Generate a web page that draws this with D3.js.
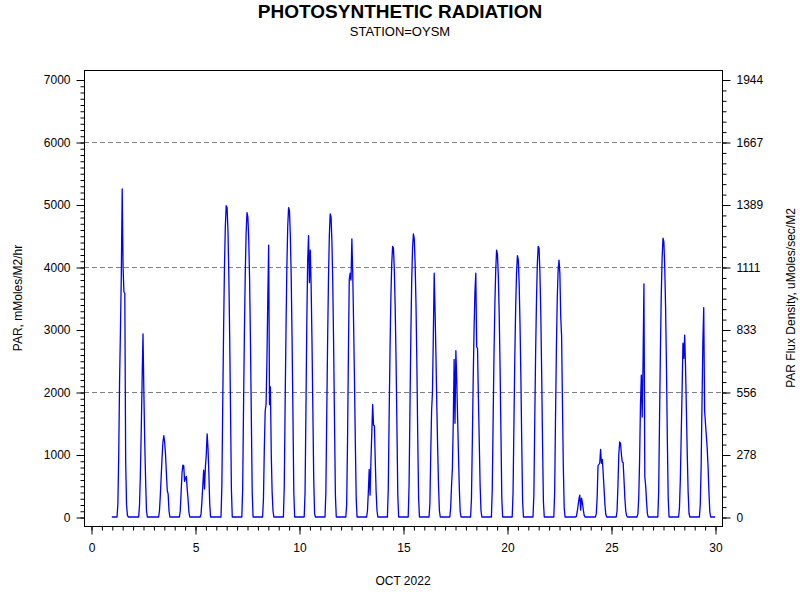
<!DOCTYPE html>
<html>
<head>
<meta charset="utf-8">
<script src="https://cdn.jsdelivr.net/npm/d3@7"></script>
<style>
    body { margin: 0; background: #fff; }
    text { font-family: "Liberation Sans", Arial, sans-serif; fill: #000; }
</style>
</head>
<body>
<script>
// hourly PAR readings (mMoles/M2/hr), one row per day of Oct 2022,
// hours 06:00 .. 19:00; all other hours read 0 on the chart
const firstDay = 1;
const firstHour = 6;
const daylight = [
    [0, 200, 1000, 2200, 3000, 3900, 5250, 4000, 3600, 3580, 900, 200, 30, 0],     // 1
    [0, 0, 200, 700, 1400, 2200, 2930, 2000, 1200, 600, 100, 0, 0, 0],              // 2
    [0, 100, 350, 650, 950, 1200, 1300, 1200, 1000, 700, 420, 370, 100, 0],         // 3
    [0, 100, 400, 700, 830, 820, 570, 620, 650, 450, 280, 80, 0, 0],                // 4
    [0, 50, 250, 500, 750, 450, 800, 1000, 1330, 1100, 700, 200, 0, 0],             // 5
    [0, 500, 1800, 3000, 4000, 4650, 4980, 4950, 4600, 3900, 2900, 1700, 450, 0],   // 6
    [0, 450, 1750, 2950, 3900, 4550, 4870, 4800, 4450, 3800, 2800, 1600, 400, 0],   // 7
    [0, 300, 1100, 1700, 1800, 2500, 3500, 4350, 1800, 2080, 1000, 400, 100, 0],    // 8
    [0, 500, 1800, 3000, 4000, 4650, 4950, 4900, 4500, 3850, 2850, 1650, 400, 0],   // 9
    [0, 400, 1700, 3100, 4100, 4500, 3750, 4270, 3700, 2800, 1700, 600, 50, 0],     // 10
    [0, 400, 1600, 2800, 3800, 4500, 4850, 4800, 4400, 3700, 2700, 1500, 350, 0],   // 11
    [0, 200, 1200, 2600, 3800, 3900, 3790, 4450, 3900, 3100, 2200, 1200, 300, 0],   // 12
    [0, 100, 400, 760, 350, 900, 1350, 1800, 1470, 1460, 900, 400, 100, 0],         // 13
    [0, 450, 1600, 2650, 3500, 4050, 4330, 4300, 3950, 3350, 2500, 1450, 350, 0],   // 14
    [0, 500, 1700, 2850, 3750, 4300, 4530, 4450, 4050, 3400, 2450, 1300, 300, 0],   // 15
    [0, 200, 1000, 1700, 2000, 2900, 3900, 3300, 2600, 1800, 1100, 500, 100, 0],    // 16
    [0, 150, 500, 780, 1500, 2520, 1500, 2660, 2200, 1600, 1000, 450, 80, 0],       // 17
    [0, 300, 1200, 2200, 3000, 3600, 3900, 2720, 2700, 1900, 1200, 500, 100, 0],    // 18
    [0, 450, 1550, 2600, 3400, 3950, 4270, 4200, 3850, 3250, 2400, 1350, 300, 0],   // 19
    [0, 400, 1500, 2550, 3350, 3900, 4180, 4120, 3750, 3100, 2250, 1200, 250, 0],   // 20
    [0, 350, 1500, 2600, 3450, 4050, 4330, 4300, 3900, 3250, 2300, 1200, 250, 0],   // 21
    [0, 400, 1600, 2700, 3500, 3950, 4110, 3900, 3200, 2900, 1800, 800, 150, 0],    // 22
    [0, 0, 10, 80, 180, 290, 350, 110, 300, 230, 120, 30, 0, 0],                    // 23
    [0, 50, 300, 820, 840, 860, 1080, 860, 920, 700, 450, 200, 40, 0],              // 24
    [0, 100, 500, 1000, 1200, 1180, 1000, 880, 870, 600, 300, 100, 20, 0],          // 25
    [0, 50, 300, 900, 1800, 2270, 1600, 2500, 3730, 650, 500, 250, 50, 0],          // 26
    [0, 400, 1550, 2650, 3550, 4150, 4460, 4400, 4000, 3350, 2400, 1250, 300, 0],   // 27
    [0, 150, 600, 1300, 2000, 2780, 2540, 2910, 2400, 1700, 1000, 400, 60, 0],      // 28
    [0, 200, 800, 1800, 2800, 3350, 1700, 1500, 1300, 1100, 800, 400, 80, 0]        // 29
];

const xTicks = [0, 5, 10, 15, 20, 25, 30];
const leftTicks = [0, 1000, 2000, 3000, 4000, 5000, 6000, 7000];
const gridValues = [2000, 4000, 6000];
const mMolesPerUMoles = 3.6;   // mMoles/M2/hr -> uMoles/sec/M2

const title = 'PHOTOSYNTHETIC RADIATION';
const subtitle = 'STATION=OYSM';
const xLabel = 'OCT 2022';
const yLabel = 'PAR, mMoles/M2/hr';
const y2Label = 'PAR Flux Density, uMoles/sec/M2';

// flatten to (day, value) points
const series = [];
daylight.forEach((row, i) => {
    const day = firstDay + i;
    for (let h = 0; h < 24; h++) {
        const k = h - firstHour;
        series.push({ t: day + h / 24, v: (k >= 0 && k < row.length) ? row[k] : 0 });
    }
});
series.push({ t: firstDay + daylight.length, v: 0 });

const width = 800, height = 600;
const frame = { left: 84, right: 722, top: 70, bottom: 526 };

const svg = d3.select('body').append('svg')
    .attr('width', width)
    .attr('height', height);

const x = d3.scaleLinear().domain([0, 30]).range([91, 715]);
const y = d3.scaleLinear().domain([-144, 7152]).range([frame.bottom, frame.top]);
const y2 = d3.scaleLinear()
    .domain(y.domain().map(v => v / mMolesPerUMoles))
    .range(y.range());

// grid
svg.append('g').selectAll('line')
    .data(gridValues)
    .join('line')
    .attr('x1', frame.left).attr('x2', frame.right)
    .attr('y1', d => y(d) + 0.5).attr('y2', d => y(d) + 0.5)
    .attr('stroke', '#808080')
    .attr('stroke-dasharray', '5,3');

// the line
svg.append('path')
    .datum(series)
    .attr('fill', 'none')
    .attr('stroke', '#0000ff')
    .attr('stroke-width', 1.3)
    .attr('stroke-linejoin', 'round')
    .attr('d', d3.line().x(d => x(d.t)).y(d => y(d.v)));

// frame
svg.append('rect')
    .attr('x', frame.left + 0.5).attr('y', frame.top + 0.5)
    .attr('width', frame.right - frame.left).attr('height', frame.bottom - frame.top)
    .attr('fill', 'none')
    .attr('stroke', '#000');

function styleAxis(g) {
    g.select('.domain').remove();
    g.selectAll('line').attr('stroke', '#000');
    g.selectAll('text').attr('font-size', 12).attr('font-family', '"Liberation Sans", Arial, sans-serif');
}

// bottom axis
svg.append('g')
    .attr('transform', `translate(0.5,${frame.bottom + 0.5})`)
    .call(d3.axisBottom(x).tickValues(d3.range(0, 30.01, 0.5)).tickSize(4).tickFormat(''))
    .call(styleAxis);
svg.append('g')
    .attr('transform', `translate(0.5,${frame.bottom + 0.5})`)
    .call(d3.axisBottom(x).tickValues(xTicks).tickSize(8).tickPadding(9).tickFormat(d3.format('d')))
    .call(styleAxis);

// left axis
svg.append('g')
    .attr('transform', `translate(${frame.left + 0.5},0.5)`)
    .call(d3.axisLeft(y).tickValues(d3.range(0, 7001, 100)).tickSize(4).tickFormat(''))
    .call(styleAxis);
svg.append('g')
    .attr('transform', `translate(${frame.left + 0.5},0.5)`)
    .call(d3.axisLeft(y).tickValues(leftTicks).tickSize(8).tickPadding(6).tickFormat(d3.format('d')))
    .call(styleAxis);

// right axis, same ticks in uMoles/sec/M2
const rightTicks = leftTicks.map(v => v / mMolesPerUMoles);
const rightMinor = d3.range(0, 7001, 1000 / 6).map(v => v / mMolesPerUMoles);
svg.append('g')
    .attr('transform', `translate(${frame.right + 0.5},0.5)`)
    .call(d3.axisRight(y2).tickValues(rightMinor).tickSize(4).tickFormat(''))
    .call(styleAxis);
svg.append('g')
    .attr('transform', `translate(${frame.right + 0.5},0.5)`)
    .call(d3.axisRight(y2).tickValues(rightTicks).tickSize(8).tickPadding(6).tickFormat(d3.format('.0f')))
    .call(styleAxis);

// titles
svg.append('text')
    .attr('x', 400).attr('y', 18)
    .attr('text-anchor', 'middle')
    .attr('font-size', 19).attr('font-weight', 'bold')
    .text(title);
svg.append('text')
    .attr('x', 400).attr('y', 36)
    .attr('text-anchor', 'middle')
    .attr('font-size', 13)
    .text(subtitle);
svg.append('text')
    .attr('x', 403).attr('y', 585)
    .attr('text-anchor', 'middle')
    .attr('font-size', 12)
    .text(xLabel);
svg.append('text')
    .attr('transform', 'translate(22,298) rotate(-90)')
    .attr('text-anchor', 'middle')
    .attr('font-size', 12)
    .text(yLabel);
svg.append('text')
    .attr('transform', 'translate(795,298) rotate(-90)')
    .attr('text-anchor', 'middle')
    .attr('font-size', 12)
    .text(y2Label);
</script>
</body>
</html>
